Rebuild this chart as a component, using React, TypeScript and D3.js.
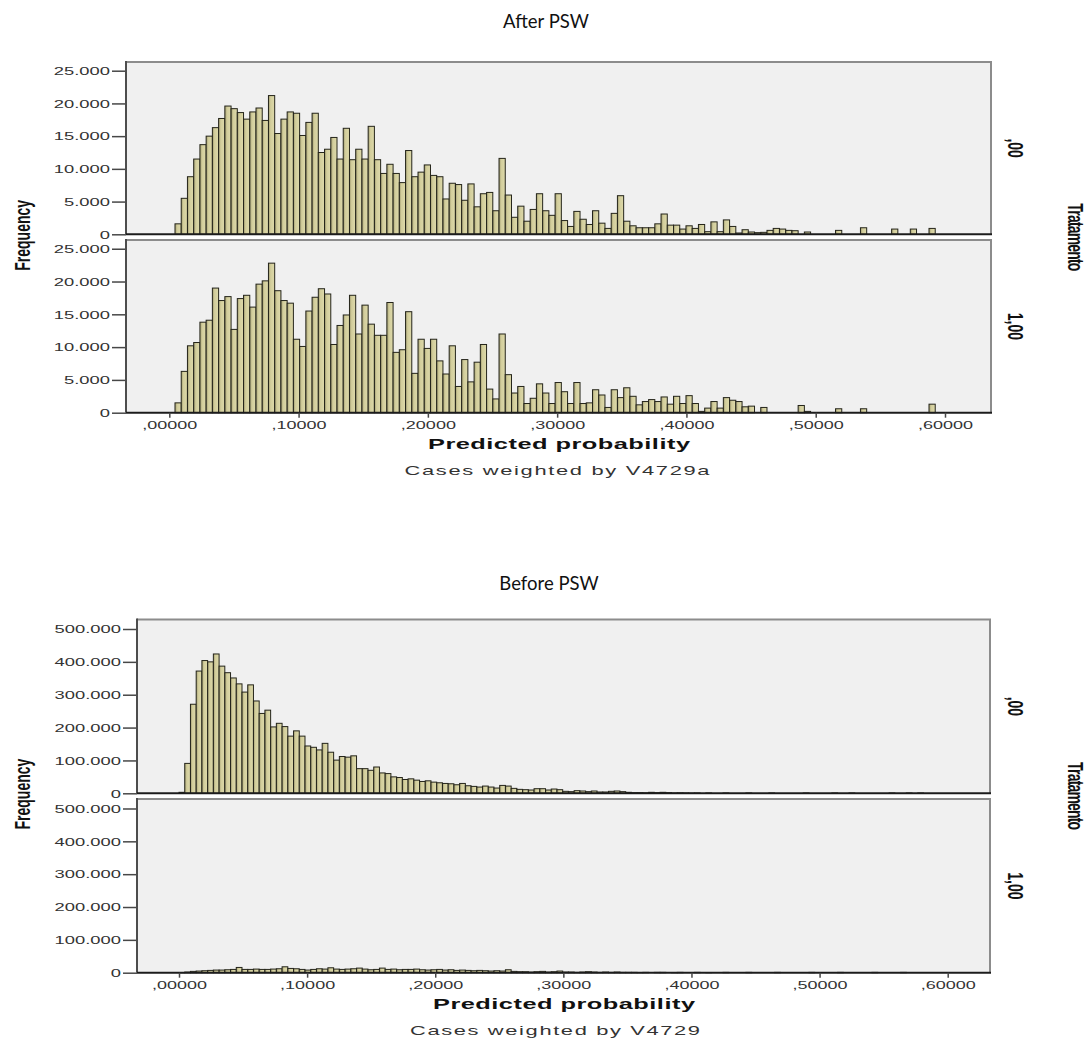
import React, { useEffect, useRef } from "react";
import * as d3 from "d3";

// bin heights in thousands of weighted cases
const afterPswControl = [
  1.6, 5.5, 8.8, 11.5, 13.7, 15.0, 16.3, 17.7, 19.6, 19.2, 18.6, 17.6, 18.7, 19.3, 17.4, 21.2,
  15.4, 17.6, 18.7, 18.5, 15.1, 17.1, 18.5, 12.5, 13.0, 14.8, 11.5, 16.2, 11.4, 13.0, 11.5, 16.5,
  11.4, 9.3, 10.7, 9.3, 7.9, 12.8, 8.8, 9.5, 10.6, 9.0, 8.8, 5.4, 7.8, 7.6, 5.2, 7.7,
  4.2, 6.2, 6.4, 3.6, 11.6, 6.0, 2.6, 4.3, 2.0, 3.8, 6.2, 3.6, 2.9, 6.2, 2.1, 1.2,
  3.5, 2.3, 1.5, 3.6, 1.7, 0.9, 3.2, 5.9, 2.0, 1.3, 1.0, 1.0, 1.0, 1.6, 3.1, 1.4,
  1.4, 0.8, 1.3, 0.9, 1.5, 0.4, 1.9, 0.4, 2.2, 1.2, 0.2, 0.7, 0.35, 0.25, 0.3, 0.6,
  0.9, 0.8, 0.6, 0.55, 0, 0.35, 0, 0, 0, 0, 0.6, 0, 0, 0, 1.0, 0,
  0, 0, 0, 0.8, 0, 0, 0.8, 0, 0, 0.9,
];

const afterPswTreated = [
  1.5, 6.3, 10.2, 10.7, 13.8, 14.1, 19.0, 17.1, 17.7, 12.7, 17.4, 17.9, 16.1, 19.6, 20.1, 22.8,
  18.6, 17.1, 16.7, 11.2, 10.1, 15.5, 17.6, 18.9, 18.1, 10.4, 13.3, 14.9, 17.9, 12.0, 16.4, 13.5,
  11.8, 11.8, 16.8, 9.2, 9.6, 15.4, 6.0, 11.2, 9.8, 11.2, 7.9, 5.9, 10.2, 4.0, 8.1, 4.7,
  7.7, 10.4, 3.6, 2.1, 12.0, 5.8, 3.0, 4.0, 1.4, 2.2, 4.4, 3.0, 1.4, 4.6, 3.2, 1.4,
  4.6, 1.4, 1.5, 3.5, 2.7, 0.8, 3.5, 2.3, 3.8, 2.5, 1.2, 1.7, 2.0, 1.7, 2.4, 1.3,
  2.5, 1.4, 2.6, 1.4, 0.2, 0.7, 1.7, 0.7, 2.3, 1.9, 1.7, 0.9, 1.0, 0, 0.8, 0,
  0, 0, 0, 0, 1.1, 0.2, 0, 0, 0, 0, 0.6, 0, 0, 0, 0.6, 0,
  0, 0, 0, 0, 0, 0, 0, 0, 0, 1.3,
];

const beforePswControl = [
  3, 91, 271, 372, 404, 400, 424, 387, 367, 351, 333, 308, 330, 281, 243, 253,
  202, 213, 203, 174, 190, 174, 144, 140, 132, 152, 125, 101, 112, 110, 114, 75,
  75, 70, 80, 62, 60, 50, 48, 42, 44, 40, 36, 38, 34, 32, 30, 29,
  26, 30, 23, 21, 19, 22, 19, 16, 24, 22, 15, 12, 11, 10, 14, 14,
  10, 13, 11, 6, 5, 8, 7, 5, 7, 4, 4, 6, 7, 5, 3, 2,
  2, 1.5, 3, 2, 3, 2, 1, 1.5, 1, 0.5, 1, 0, 1, 0, 0, 1,
  0, 0, 0, 1, 0, 0, 0, 1, 0, 0, 0, 0, 0, 1, 0, 0,
  0, 0, 1, 0, 0, 1, 0, 0, 0, 0, 0, 0, 1, 0, 0, 1,
  0, 1, 0, 0,
];

const beforePswTreated = [
  0.5, 2, 4, 5, 6, 7, 8, 8, 9, 10, 16, 10, 10, 11, 10, 10,
  11, 12, 18, 13, 12, 10, 8, 10, 12, 11, 15, 11, 10, 11, 12, 14,
  11, 9, 10, 14, 10, 11, 9, 10, 10, 11, 9, 8, 9, 10, 8, 9,
  7, 8, 7, 6, 7, 6, 5, 6, 5, 9, 4, 3, 3, 2, 3, 4,
  2, 3, 5, 2, 2, 1, 2, 3, 2, 1, 2, 1, 2, 1, 1, 1,
  0.5, 1, 0, 1, 1, 0, 0.5, 1, 0, 0, 1, 0, 0.5, 0, 0, 1,
  0, 0, 0, 1, 0, 0, 0, 0, 1, 0, 0, 0, 0, 0, 1, 0,
  0, 0, 0, 1, 0, 0, 0, 0, 0, 1, 0, 0, 0, 0, 1, 0,
  0, 0, 0, 0,
];

const groupLabels = [",00", "1,00"];
const probTicks = [0, 0.1, 0.2, 0.3, 0.4, 0.5, 0.6];
const afterFreqTicks = [0, 5, 10, 15, 20, 25];
const beforeFreqTicks = [0, 100, 200, 300, 400, 500];

const ptBr = d3.formatLocale({ decimal: ",", thousands: ".", grouping: [3], currency: ["R$", ""] });
const fmtFreq = (k: number) => ptBr.format(",d")(Math.round(k * 1000));
const fmtProb = (v: number) => ptBr.format(".5f")(v).replace(/^0/, "");

const SX = 1.75; // the exported SPSS picture is stretched sideways
const AXIS_FONT = "'Liberation Sans', Arial, sans-serif";
const NARROW_FONT = "'Liberation Sans Narrow', 'Liberation Sans', Arial, sans-serif";

const drawHistogram = (svg: any, c: any) => {
  const x = d3.scaleLinear().domain([0, 0.6]).range([c.zeroX, c.sixX]);
  const binX = (i: number) => x(c.binStart + i * c.binWidth);

  svg
    .append("text")
    .attr("x", c.titleX)
    .attr("y", c.titleY)
    .attr("text-anchor", "middle")
    .attr("font-family", "Lato, 'Open Sans', sans-serif")
    .attr("font-size", 18.5)
    .attr("fill", "#111")
    .text(c.title);

  c.panels.forEach(([top, bottom]: number[], p: number) => {
    const y = d3.scaleLinear().domain([0, c.yMax]).range([bottom, top]);
    const g = svg.append("g");

    g.append("rect")
      .attr("x", c.left)
      .attr("y", top)
      .attr("width", c.right - c.left)
      .attr("height", bottom - top)
      .attr("fill", "#f0f0f0");

    g.append("path")
      .attr("d", `M${c.left},${top}H${c.right}V${bottom}`)
      .attr("fill", "none")
      .attr("stroke", "#8c8c8c")
      .attr("stroke-width", 2);

    const bins = c.series[p]
      .map((v: number, i: number) => ({ v, i }))
      .filter((d: any) => d.v > 0);

    g.append("g")
      .selectAll("rect")
      .data(bins)
      .join("rect")
      .attr("x", (d: any) => binX(d.i))
      .attr("y", (d: any) => y(d.v))
      .attr("width", (d: any) => binX(d.i + 1) - binX(d.i))
      .attr("height", (d: any) => y(0) - y(d.v))
      .attr("fill", "url(#barFill)")
      .attr("stroke", "#24241a")
      .attr("stroke-width", 1);

    g.append("g")
      .attr("transform", `translate(${c.left},0)`)
      .call(d3.axisLeft(y).tickValues(c.yTicks).tickSize(14).tickFormat(fmtFreq))
      .call((a: any) => a.select(".domain").remove())
      .call((a: any) => a.selectAll("line").attr("stroke", "#474747").attr("stroke-width", 1.5))
      .call((a: any) =>
        a
          .selectAll("text")
          .attr("x", null)
          .attr("dy", "0.36em")
          .attr("transform", `translate(-16,0) scale(${SX},1)`)
          .attr("fill", "#333")
          .attr("font-family", AXIS_FONT)
          .attr("font-size", 10.5)
      );

    g.append("line")
      .attr("x1", c.left)
      .attr("x2", c.left)
      .attr("y1", top - 1)
      .attr("y2", bottom)
      .attr("stroke", "#4d4d4d")
      .attr("stroke-width", 2);

    g.append("line")
      .attr("x1", c.left)
      .attr("x2", c.right + 1)
      .attr("y1", bottom)
      .attr("y2", bottom)
      .attr("stroke", "#1c1c1c")
      .attr("stroke-width", 2);

    g.append("text")
      .attr("transform", `translate(${c.groupX},${(top + bottom) / 2}) scale(1.6,1) rotate(90)`)
      .attr("text-anchor", "middle")
      .attr("dy", "0.35em")
      .attr("font-family", NARROW_FONT)
      .attr("font-weight", "bold")
      .attr("font-size", 14)
      .attr("fill", "#111")
      .text(groupLabels[p]);
  });

  const base = c.panels[c.panels.length - 1][1];
  svg
    .append("g")
    .attr("transform", `translate(0,${base})`)
    .call(d3.axisBottom(x).tickValues(probTicks).tickSize(5).tickPadding(4).tickFormat(fmtProb))
    .call((a: any) => a.select(".domain").remove())
    .call((a: any) => a.selectAll("line").attr("stroke", "#474747").attr("stroke-width", 1.5))
    .call((a: any) =>
      a
        .selectAll("text")
        .attr("transform", `scale(${SX},1)`)
        .attr("fill", "#333")
        .attr("font-family", AXIS_FONT)
        .attr("font-size", 10.3)
    );

  // axis title and weighting note
  svg
    .append("text")
    .attr("transform", `translate(${c.axisTitleX},${c.axisTitleY}) scale(${SX},1)`)
    .attr("text-anchor", "middle")
    .attr("font-family", AXIS_FONT)
    .attr("font-weight", "bold")
    .attr("font-size", 14.5)
    .attr("textLength", 262 / SX)
    .attr("lengthAdjust", "spacing")
    .attr("fill", "#111")
    .text("Predicted probability");

  svg
    .append("text")
    .attr("transform", `translate(${c.noteX},${c.noteY}) scale(${SX},1)`)
    .attr("text-anchor", "middle")
    .attr("font-family", AXIS_FONT)
    .attr("font-size", 12.5)
    .attr("textLength", c.noteWidth / SX)
    .attr("lengthAdjust", "spacing")
    .attr("fill", "#333")
    .text(c.note);

  const mid = (c.panels[0][0] + base) / 2;
  svg
    .append("text")
    .attr("transform", `translate(22.5,${mid - 2}) scale(1.6,1) rotate(-90)`)
    .attr("text-anchor", "middle")
    .attr("dy", "0.35em")
    .attr("font-family", NARROW_FONT)
    .attr("font-weight", "bold")
    .attr("font-size", 14)
    .attr("fill", "#111")
    .text("Frequency");

  svg
    .append("text")
    .attr("transform", `translate(1076,${mid}) scale(1.6,1) rotate(90)`)
    .attr("text-anchor", "middle")
    .attr("dy", "0.35em")
    .attr("font-family", NARROW_FONT)
    .attr("font-weight", "bold")
    .attr("font-size", 14)
    .attr("textLength", 68)
    .attr("fill", "#111")
    .text("Tratamento");
};

export default function App() {
  const chartRef = useRef<SVGSVGElement>(null);

  useEffect(() => {
    const svg = d3.select(chartRef.current);
    svg.selectAll("*").remove();

    const grad = svg
      .append("defs")
      .append("linearGradient")
      .attr("id", "barFill")
      .attr("x1", 0)
      .attr("x2", 1)
      .attr("y1", 0)
      .attr("y2", 0);
    grad.append("stop").attr("offset", 0).attr("stop-color", "#a19c70");
    grad.append("stop").attr("offset", 0.35).attr("stop-color", "#d2cd9b");
    grad.append("stop").attr("offset", 1).attr("stop-color", "#dedaab");

    drawHistogram(svg, {
      title: "After PSW",
      titleX: 546,
      titleY: 28,
      left: 126,
      right: 991,
      zeroX: 169.3,
      sixX: 945,
      panels: [
        [62, 234.3],
        [240, 412.7],
      ],
      yMax: 26.33,
      yTicks: afterFreqTicks,
      series: [afterPswControl, afterPswTreated],
      binStart: 0.0044,
      binWidth: 0.00482,
      groupX: 1016,
      axisTitleX: 559,
      axisTitleY: 449,
      note: "Cases weighted by V4729a",
      noteX: 557,
      noteY: 475,
      noteWidth: 305,
    });

    drawHistogram(svg, {
      title: "Before PSW",
      titleX: 549,
      titleY: 590,
      left: 137,
      right: 990,
      zeroX: 179,
      sixX: 947.7,
      panels: [
        [619.5, 793.3],
        [799, 972.7],
      ],
      yMax: 528.9,
      yTicks: beforeFreqTicks,
      series: [beforePswControl, beforePswTreated],
      binStart: 0,
      binWidth: 0.00447,
      groupX: 1016,
      axisTitleX: 564,
      axisTitleY: 1009,
      note: "Cases weighted by V4729",
      noteX: 555,
      noteY: 1035,
      noteWidth: 290,
    });
  }, []);

  return (
    <svg
      ref={chartRef}
      width={1089}
      height={1039}
      style={{ position: "absolute", left: 0, top: 0, background: "#fff" }}
    ></svg>
  );
}
